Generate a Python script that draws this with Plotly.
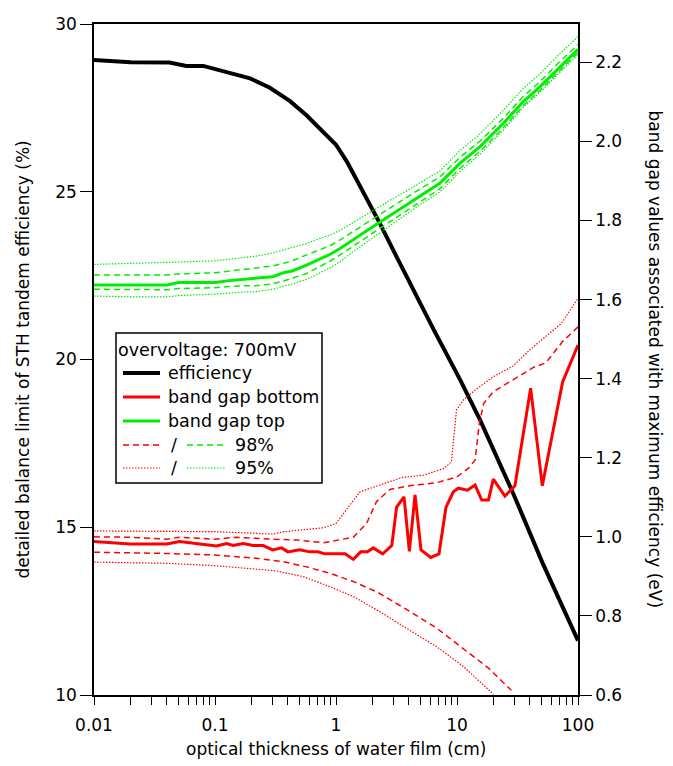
import numpy as np
import plotly.graph_objects as go

# ---- data -------------------------------------------------------------
# STH tandem efficiency (left axis, %)
eff_x = [0.01, 0.02, 0.042, 0.058, 0.08, 0.1, 0.13, 0.195, 0.284, 0.417, 0.57, 0.79,
         1.0, 1.23, 1.68, 2.31, 3.17, 4.2, 6.4, 10.6, 15.5, 29.2, 51, 100]
eff_y = [28.93, 28.86, 28.85, 28.75, 28.75, 28.65, 28.55, 28.38, 28.10, 27.70, 27.28, 26.78,
         26.40, 25.90, 25.00, 24.05, 23.06, 22.17, 20.90, 19.40, 18.20, 16.00, 13.93, 11.62]

# bottom band gap (right axis, eV)
bot_x = [0.01, 0.02, 0.04, 0.051, 0.075, 0.103, 0.125, 0.141, 0.171, 0.206, 0.25, 0.30,
         0.355, 0.40, 0.50, 0.61, 0.71, 0.81, 1.19, 1.39, 1.60, 1.82, 2.03, 2.43, 2.89,
         3.17, 3.65, 4.04, 4.50, 5.04, 6.07, 7.10, 8.11, 9.33, 10.26, 12.2, 14.1, 16.0,
         18.2, 19.95, 24.9, 30.1, 40.6, 50.7, 74.6, 100]
bot_y = [0.988, 0.982, 0.982, 0.988, 0.982, 0.977, 0.983, 0.978, 0.983, 0.978, 0.978, 0.967,
         0.972, 0.962, 0.967, 0.962, 0.962, 0.957, 0.957, 0.943, 0.962, 0.962, 0.972, 0.957, 0.978,
         1.075, 1.101, 0.963, 1.106, 0.967, 0.948, 0.957, 1.075, 1.114, 1.123, 1.118, 1.131, 1.093,
         1.093, 1.146, 1.103, 1.129, 1.376, 1.129, 1.392, 1.485]

bot98_hi_x = [0.01, 0.02, 0.04, 0.051, 0.1, 0.15, 0.3, 0.47, 0.79, 1.39, 1.79, 2.16, 2.79,
              4.05, 6.8, 9.9, 12.4, 14.1, 15.3, 16.6, 19.95, 29.1, 43.2, 54.2, 74.6, 100]
bot98_hi_y = [1.000, 0.999, 0.994, 0.999, 0.994, 0.999, 0.994, 0.992, 0.985, 0.999, 1.034, 1.089, 1.120,
              1.129, 1.137, 1.151, 1.173, 1.194, 1.287, 1.337, 1.367, 1.397, 1.429, 1.440, 1.494, 1.531]

bot95_hi_x = [0.01, 0.045, 0.1, 0.3, 0.37, 0.79, 1.0, 1.58, 2.3, 3.5, 5.3, 7.8, 9.0, 9.9,
              11.3, 14.1, 19.95, 29.1, 40, 73, 100]
bot95_hi_y = [1.015, 1.013, 1.013, 1.007, 1.013, 1.023, 1.034, 1.114, 1.131, 1.150, 1.156, 1.173, 1.190, 1.321,
              1.346, 1.371, 1.405, 1.432, 1.473, 1.540, 1.603]

bot98_lo_x = [0.01, 0.04, 0.1, 0.22, 0.37, 0.57, 0.89, 1.39, 2.2, 3.8, 6.8, 11.3, 18.2, 28.1]
bot98_lo_y = [0.961, 0.958, 0.954, 0.946, 0.937, 0.924, 0.908, 0.887, 0.860, 0.817, 0.769, 0.718, 0.668, 0.612]

bot95_lo_x = [0.01, 0.04, 0.1, 0.19, 0.32, 0.54, 0.89, 1.39, 2.3, 4.05, 6.8, 11.3, 20.0]
bot95_lo_y = [0.936, 0.933, 0.927, 0.920, 0.914, 0.899, 0.874, 0.849, 0.811, 0.764, 0.722, 0.672, 0.602]

# top band gap (right axis, eV)
top_x = [0.01, 0.02, 0.04, 0.05, 0.1, 0.13, 0.17, 0.22, 0.3, 0.37, 0.44, 0.57, 0.74, 0.89,
         1.08, 1.3, 1.9, 2.8, 4.05, 4.9, 7.2, 10.6, 15.5, 24.2, 35.3, 48.4, 70.9, 100]
top_y = [1.637, 1.637, 1.637, 1.643, 1.643, 1.648, 1.651, 1.655, 1.658, 1.668, 1.673, 1.687, 1.702, 1.714,
         1.729, 1.746, 1.779, 1.813, 1.845, 1.862, 1.894, 1.945, 1.987, 2.046, 2.101, 2.138, 2.189, 2.233]
top98_hi = [1.662, 1.662, 1.662, 1.665, 1.668, 1.672, 1.676, 1.679, 1.685, 1.692, 1.699, 1.713, 1.727, 1.736,
            1.751, 1.767, 1.799, 1.832, 1.863, 1.879, 1.910, 1.960, 2.001, 2.059, 2.114, 2.151, 2.202, 2.245]
top98_lo = [1.626, 1.625, 1.625, 1.628, 1.630, 1.633, 1.635, 1.635, 1.640, 1.647, 1.654, 1.666, 1.684, 1.697,
            1.713, 1.730, 1.763, 1.797, 1.830, 1.847, 1.880, 1.932, 1.975, 2.035, 2.091, 2.129, 2.180, 2.225]
top95_hi = [1.689, 1.691, 1.693, 1.695, 1.698, 1.702, 1.706, 1.710, 1.718, 1.726, 1.732, 1.742, 1.755, 1.763,
            1.775, 1.790, 1.820, 1.851, 1.879, 1.894, 1.925, 1.977, 2.019, 2.079, 2.134, 2.171, 2.222, 2.265]
top95_lo = [1.609, 1.607, 1.607, 1.610, 1.614, 1.617, 1.619, 1.620, 1.626, 1.634, 1.640, 1.651, 1.667, 1.680,
            1.696, 1.715, 1.751, 1.787, 1.821, 1.839, 1.872, 1.924, 1.968, 2.029, 2.086, 2.124, 2.175, 2.219]

x_ticks = [0.01, 0.1, 1, 10, 100]
x_ticktext = ["0.01", "0.1", "1", "10", "100"]
x_minor = [m * 10.0 ** e for e in range(-2, 2) for m in range(2, 10)]
eff_ticks = [10, 15, 20, 25, 30]
gap_ticks = [0.6, 0.8, 1.0, 1.2, 1.4, 1.6, 1.8, 2.0, 2.2]

# every decade and sub-decade position carries a tick; only decades get a label
x_all_ticks = sorted(x_ticks + x_minor)
x_all_text = [x_ticktext[x_ticks.index(v)] if v in x_ticks else "" for v in x_all_ticks]

# ---- styling ---------------------------------------------------------
FONT = "DejaVu Sans"
RED = "#ff0000"
GREEN = "#00ee00"
DASH = "6px,4px"
DOT = "1.5px,1.5px"

fig = go.Figure()

def add(x, y, color, width, dash="solid", axis="y2"):
    fig.add_trace(go.Scatter(x=x, y=y, mode="lines", yaxis=axis, showlegend=False,
                             line=dict(color=color, width=width, dash=dash),
                             hoverinfo="skip"))

# red band (bottom cell)
add(bot95_hi_x, bot95_hi_y, RED, 1.2, DOT)
add(bot95_lo_x, bot95_lo_y, RED, 1.2, DOT)
add(bot98_hi_x, bot98_hi_y, RED, 1.5, DASH)
add(bot98_lo_x, bot98_lo_y, RED, 1.5, DASH)
add(bot_x, bot_y, RED, 3)
# green band (top cell)
add(top_x, top95_hi, GREEN, 1.2, DOT)
add(top_x, top95_lo, GREEN, 1.2, DOT)
add(top_x, top98_hi, GREEN, 1.5, DASH)
add(top_x, top98_lo, GREEN, 1.5, DASH)
add(top_x, top_y, GREEN, 3)
# efficiency
add(eff_x, eff_y, "black", 4, axis="y")

# plot-area geometry in pixels
W, H = 673, 766
L, R, T, B = 94, 95, 24, 71
PW, PH = W - L - R, H - T - B

def px(xp):
    return (xp - L) / PW

def py(yp):
    return (H - B - yp) / PH

tickfont = dict(family=FONT, size=17, color="black")
TITLE_SIZE = 17

fig.update_layout(
    width=W, height=H,
    margin=dict(l=L, r=R, t=T, b=B, pad=0),
    paper_bgcolor="white", plot_bgcolor="white",
    font=dict(family=FONT, size=16, color="black"),
    showlegend=False,
    xaxis=dict(type="log", range=[-2, 2], tickmode="array", tickvals=x_all_ticks,
               ticktext=x_all_text, ticks="outside", ticklen=8, tickwidth=1.2,
               tickcolor="black", ticklabelstandoff=6,
               showline=True, linecolor="black", linewidth=1.5, mirror=True,
               showgrid=False, zeroline=False, tickfont=tickfont),
    yaxis=dict(range=[10, 30], tickvals=eff_ticks, ticks="outside", ticklen=12,
               tickwidth=1.3, tickcolor="black", showline=True, linecolor="black",
               linewidth=1.5, showgrid=False, zeroline=False, tickfont=tickfont),
    yaxis2=dict(range=[0.6, 2.297], tickvals=gap_ticks, ticktext=[f"{v:.1f}" for v in gap_ticks],
                overlaying="y", side="right", ticks="outside", ticklen=12, tickwidth=1.3,
                tickcolor="black", showline=True, linecolor="black", linewidth=1.5,
                showgrid=False, zeroline=False, tickfont=tickfont),
)

annotations = [
    dict(text="optical thickness of water film (cm)", x=0.5, y=py(749), xref="paper", yref="paper",
         showarrow=False, font=dict(family=FONT, size=TITLE_SIZE), xanchor="center", yanchor="middle"),
    dict(text="detailed balance limit of STH tandem efficiency (%)", x=px(22), y=0.5,
         xref="paper", yref="paper", showarrow=False, textangle=-90,
         font=dict(family=FONT, size=TITLE_SIZE), xanchor="center", yanchor="middle"),
    dict(text="band gap values associated with maximum efficiency (eV)", x=px(655), y=0.5,
         xref="paper", yref="paper", showarrow=False, textangle=90,
         font=dict(family=FONT, size=TITLE_SIZE), xanchor="center", yanchor="middle"),
]

# ---- legend box -------------------------------------------------------
shapes = [dict(type="rect", xref="paper", yref="paper", x0=px(116), x1=px(322),
               y0=py(483), y1=py(333), line=dict(color="black", width=1.5),
               fillcolor="white", layer="above")]

rows = [350, 373, 397, 421, 445, 468]
legend_font = dict(family=FONT, size=17.5, color="black")

def leg_text(text, xpix, ypix):
    annotations.append(dict(text=text, x=px(xpix), y=py(ypix), xref="paper", yref="paper",
                            showarrow=False, xanchor="left", yanchor="middle", font=legend_font))

def leg_line(x0, x1, ypix, color, width, dash="solid"):
    shapes.append(dict(type="line", xref="paper", yref="paper", x0=px(x0), x1=px(x1),
                       y0=py(ypix), y1=py(ypix), layer="above",
                       line=dict(color=color, width=width, dash=dash)))

leg_text("overvoltage: 700mV", 116, rows[0])
leg_line(123, 160, rows[1], "black", 4)
leg_text("efficiency", 166, rows[1])
leg_line(123, 160, rows[2], RED, 3)
leg_text("band gap bottom", 166, rows[2])
leg_line(123, 160, rows[3], GREEN, 3)
leg_text("band gap top", 166, rows[3])
leg_line(123, 160, rows[4], RED, 1.5, DASH)
leg_text("/", 169, rows[4])
leg_line(187, 226, rows[4], GREEN, 1.5, DASH)
leg_text("98%", 233, rows[4])
leg_line(123, 160, rows[5], RED, 1.2, DOT)
leg_text("/", 169, rows[5])
leg_line(187, 226, rows[5], GREEN, 1.2, DOT)
leg_text("95%", 233, rows[5])

fig.update_layout(shapes=shapes, annotations=annotations)

fig.write_html("out.html")
